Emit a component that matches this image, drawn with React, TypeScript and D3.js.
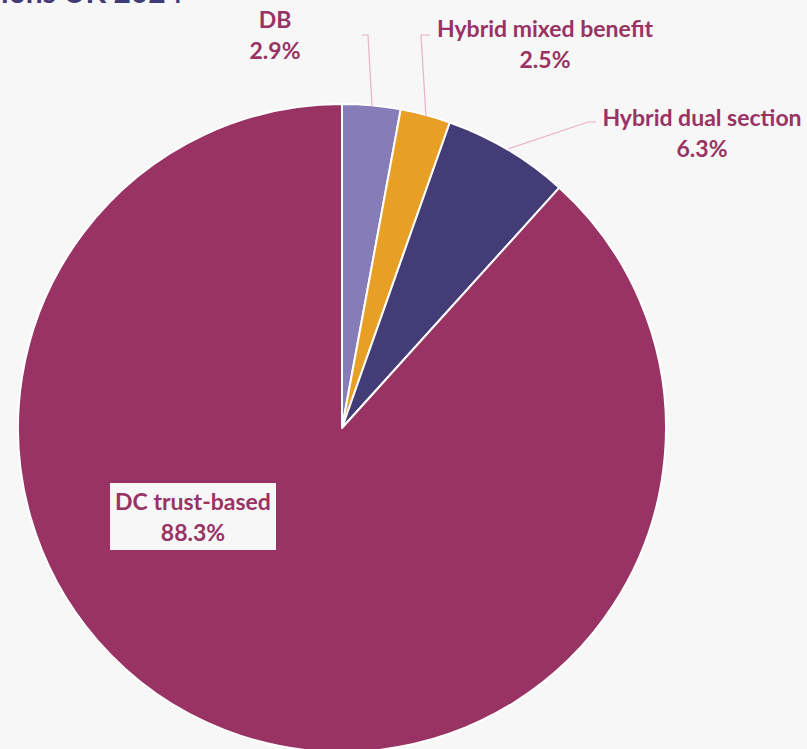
import React from "react";
import * as d3 from "d3";

const categories = ["DB", "Hybrid mixed benefit", "Hybrid dual section", "DC trust-based"];
const values = [2.9, 2.5, 6.3, 88.3];
const colors = ["#857cb8", "#e89f25", "#433c76", "#983363"];
const labelText = ["2.9%", "2.5%", "6.3%", "88.3%"];
const title = "Memberships by scheme type, occupational pensions UK 2024";

const W = 807;
const H = 749;
const cx = 342;
const cy = 428;
const R = 324;

export default function App() {
  React.useEffect(() => {
    document.body.style.margin = "0";
    document.body.style.background = "#f7f7f7";
  }, []);
  const pie = d3.pie<number>().sort(null).value((d) => d)(values);
  const arc = d3.arc<d3.PieArcDatum<number>>().innerRadius(0).outerRadius(R);
  const labelColor = "#983363";
  const font = "Lato, 'Open Sans', sans-serif";
  const leader = "#eab0cc";

  const labels = [
    { x: 275, y1: 28, y2: 59 },
    { x: 545, y1: 37, y2: 68 },
    { x: 702, y1: 126, y2: 157 },
    { x: 193, y1: 510, y2: 541 },
  ];
  const leaders = [
    [[362, 35], [368, 35], [372, 106]],
    [[430, 35], [421, 35], [426, 117]],
    [[596, 122], [588, 122], [508, 149]],
  ];

  return (
    <svg width={W} height={H} style={{ display: "block", background: "#f7f7f7" }}>
      <rect x={0} y={0} width={W} height={H} fill="#f7f7f7" />
      <text x={183} y={3} textAnchor="end" fontFamily={font} fontWeight={700} fontSize={30} fill="#3f3a78">
        {title}
      </text>
      <g transform={`translate(${cx},${cy})`}>
        {pie.map((p, i) => (
          <path key={i} d={arc(p) || ""} fill={colors[i]} stroke="#ffffff" strokeWidth={2} strokeLinejoin="round" />
        ))}
      </g>
      {leaders.map((pts, i) => (
        <polyline key={i} points={pts.map((p) => p.join(",")).join(" ")} fill="none" stroke={leader} strokeWidth={1.2} />
      ))}
      <rect x={110} y={483} width={166} height={67} fill="#f7f7f7" />
      {labels.map((l, i) => (
        <g key={i} fontFamily={font} fontWeight={700} fontSize={23} fill={labelColor} textAnchor="middle">
          <text x={l.x} y={l.y1}>{categories[i]}</text>
          <text x={l.x} y={l.y2}>{labelText[i]}</text>
        </g>
      ))}
    </svg>
  );
}
